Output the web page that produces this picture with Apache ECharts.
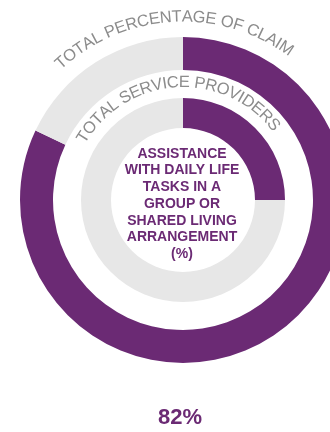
<!DOCTYPE html>
<html>
<head>
<meta charset="utf-8">
<script src="https://cdn.jsdelivr.net/npm/echarts@6/dist/echarts.min.js"></script>
<style>
html,body{margin:0;padding:0;background:#fff;}
#chart{width:330px;height:432px;}
</style>
</head>
<body>
<div id="chart"></div>
<script>
const ringTitles = ['TOTAL PERCENTAGE OF CLAIM', 'TOTAL SERVICE PROVIDERS'];
const sliceNames = ['Share', 'Remainder'];
const outerValues = [82, 18];
const innerValues = [25, 75];
const centerLabel = 'ASSISTANCE\nWITH DAILY LIFE\nTASKS IN A\nGROUP OR\nSHARED LIVING\nARRANGEMENT\n(%)';
const headline = outerValues[0] + '%';

const PURPLE = '#6B2A74';
const GREY = '#E7E7E7';
const TEXT_GREY = '#8C8C8C';
const CX = 183, CY = 200;
const FONT_FAMILY = "'Liberation Sans', Arial, sans-serif";

const chart = echarts.init(document.getElementById('chart'), null, {renderer: 'canvas'});

function arcText(text, radius, centerDeg, fontSize, color) {
  const ctx = document.createElement('canvas').getContext('2d');
  const font = 'normal ' + fontSize + 'px ' + FONT_FAMILY;
  ctx.font = font;
  const widths = Array.from(text).map(c => ctx.measureText(c).width);
  const total = widths.reduce((a, b) => a + b, 0);
  const totalDeg = total / radius * 180 / Math.PI;
  let cur = centerDeg - totalDeg / 2;
  const els = [];
  Array.from(text).forEach((c, i) => {
    const mid = cur + (widths[i] / radius * 180 / Math.PI) / 2;
    const t = mid * Math.PI / 180;
    els.push({
      type: 'text',
      x: CX + radius * Math.sin(t),
      y: CY - radius * Math.cos(t),
      rotation: -t,
      silent: true,
      style: {text: c, x: 0, y: 0, font: font, fill: color, align: 'center', verticalAlign: 'middle'}
    });
    cur += widths[i] / radius * 180 / Math.PI;
  });
  return els;
}

const graphics = []
  .concat(arcText(ringTitles[0], 183, -3.4, 16.5, TEXT_GREY))
  .concat(arcText(ringTitles[1], 117.5, -3.6, 16.5, TEXT_GREY));

graphics.push({
  type: 'text', x: 182, y: 204, silent: true,
  style: {text: centerLabel, x: 0, y: 0, font: 'bold 14px ' + FONT_FAMILY, fill: PURPLE,
    align: 'center', verticalAlign: 'middle', lineHeight: 16.7}
});
graphics.push({
  type: 'text', x: 180, y: 418, silent: true,
  style: {text: headline, x: 0, y: 0, font: 'bold 22px ' + FONT_FAMILY, fill: PURPLE,
    align: 'center', verticalAlign: 'middle'}
});

function ring(values, radius) {
  return {
    type: 'pie',
    center: [CX, CY],
    radius: radius,
    startAngle: 90,
    clockwise: true,
    silent: true,
    animation: false,
    label: {show: false},
    labelLine: {show: false},
    emphasis: {disabled: true},
    itemStyle: {borderWidth: 0},
    data: values.map((v, i) => ({name: sliceNames[i], value: v, itemStyle: {color: i === 0 ? PURPLE : GREY}}))
  };
}

chart.setOption({
  animation: false,
  backgroundColor: '#ffffff',
  series: [ring(outerValues, [130, 163]), ring(innerValues, [72, 102])],
  graphic: {elements: graphics}
});
</script>
</body>
</html>
